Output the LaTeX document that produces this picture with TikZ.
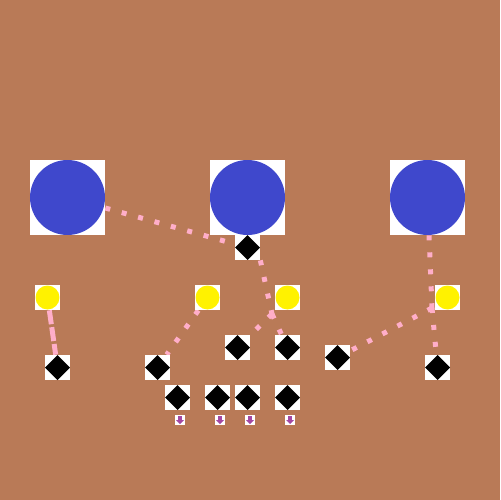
\documentclass[tikz,border=0pt]{standalone}
\usepackage{tikz}
\usetikzlibrary{calc,backgrounds}
\definecolor{paintBrown}{RGB}{185,122,87}
\definecolor{paintBlue}{RGB}{63,72,204}
\definecolor{paintYellow}{RGB}{255,242,0}
\definecolor{paintPink}{RGB}{255,174,201}
\definecolor{paintPurple}{RGB}{163,73,164}
\begin{document}
\begin{tikzpicture}[x=0.02cm,y=-0.02cm,
    bignode/.style={rectangle,fill=white,inner sep=0pt,minimum size=1.5cm,
      path picture={\fill[paintBlue] (path picture bounding box.center) circle (0.75cm);}},
    yelnode/.style={rectangle,fill=white,inner sep=0pt,minimum size=0.5cm,
      path picture={\fill[paintYellow] (path picture bounding box.center) circle (0.24cm);}},
    dianode/.style={rectangle,fill=white,inner sep=0pt,minimum size=0.5cm,
      path picture={\fill[black] (path picture bounding box.north) -- (path picture bounding box.east)
        -- (path picture bounding box.south) -- (path picture bounding box.west) -- cycle;}},
    arrownode/.style={rectangle,fill=white,inner sep=0pt,minimum size=0.2cm,
      path picture={\fill[paintPurple]
        ($(path picture bounding box.center)+(-0.04cm,0.08cm)$) rectangle
        ($(path picture bounding box.center)+(0.04cm,0cm)$);
        \fill[paintPurple] ($(path picture bounding box.center)+(-0.08cm,0cm)$)
        -- ($(path picture bounding box.center)+(0.08cm,0cm)$)
        -- ($(path picture bounding box.center)+(0cm,-0.08cm)$) -- cycle;}},
    dotlink/.style={paintPink,line width=0.1cm,dash pattern=on 0.1cm off 0.24cm},
    dashlink/.style={paintPink,line width=0.1cm,dash pattern=on 0.28cm off 0.06cm}]
  % top row
  \node[bignode] (big1) at (67.5,197.5) {};
  \node[bignode] (big2) at (247.5,197.5) {};
  \node[bignode] (big3) at (427.5,197.5) {};
  \node[dianode] (dtop) at (247.5,247.5) {};
  % yellow row
  \node[yelnode] (yel1) at (47.5,297.5) {};
  \node[yelnode] (yel2) at (207.5,297.5) {};
  \node[yelnode] (yel3) at (287.5,297.5) {};
  \node[yelnode] (yel4) at (447.5,297.5) {};
  % diamond rows
  \node[dianode] (dia1) at (57.5,367.5) {};
  \node[dianode] (dia2) at (157.5,367.5) {};
  \node[dianode] (dia3) at (237.5,347.5) {};
  \node[dianode] (dia4) at (287.5,347.5) {};
  \node[dianode] (dia5) at (337.5,357.5) {};
  \node[dianode] (dia6) at (437.5,367.5) {};
  \node[dianode] (low1) at (177.5,397.5) {};
  \node[dianode] (low2) at (217.5,397.5) {};
  \node[dianode] (low3) at (247.5,397.5) {};
  \node[dianode] (low4) at (287.5,397.5) {};
  % small arrows
  \node[arrownode] (arr1) at (180,420) {};
  \node[arrownode] (arr2) at (220,420) {};
  \node[arrownode] (arr3) at (250,420) {};
  \node[arrownode] (arr4) at (290,420) {};
  \coordinate (split1) at (272,314);
  \coordinate (split2) at (432,308);
  % links behind the nodes
  \begin{scope}[on background layer]
    \fill[paintBrown] (0,0) rectangle (500,500);
    \draw[dotlink] (big1) -- (dtop);
    \draw[dotlink] (dtop.south east) -- (split1);
    \draw[dotlink] (split1) -- (dia3);
    \draw[dotlink] (split1) -- (dia4);
    \draw[dotlink] (yel2) -- (dia2);
    \draw[dashlink] (yel1) -- (dia1);
    \draw[dotlink] (big3) -- (split2);
    \draw[dotlink] (split2) -- (dia6);
    \draw[dotlink] (split2) -- (dia5);
  \end{scope}
\end{tikzpicture}
\end{document}
